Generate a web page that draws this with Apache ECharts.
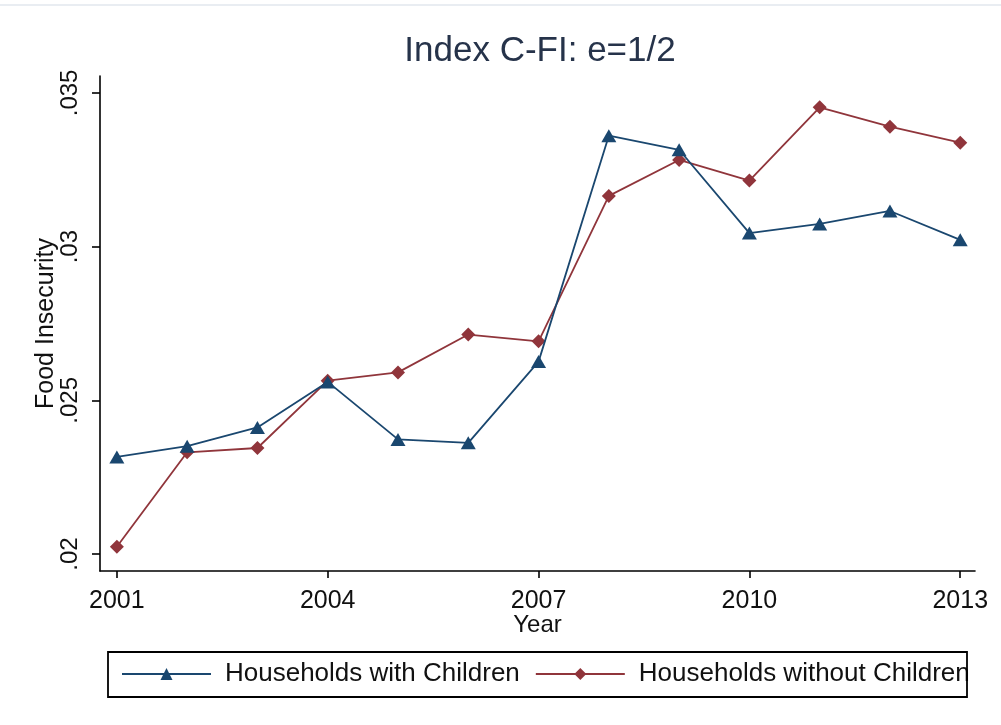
<!DOCTYPE html>
<html>
<head>
<meta charset="utf-8">
<title>Index C-FI: e=1/2</title>
<script src="https://cdn.jsdelivr.net/npm/echarts@6/dist/echarts.min.js"></script>
<style>
  html, body { margin: 0; padding: 0; background: #ffffff; }
  #chart { width: 1001px; height: 725px; }
</style>
</head>
<body>
<div id="chart"></div>
<script>
// Survey years
var years = [2001, 2002, 2003, 2004, 2005, 2006, 2007, 2008, 2009, 2010, 2011, 2012, 2013];

// Food insecurity index (C-FI, e = 1/2)
var withChildren = [0.02316, 0.02351, 0.02412, 0.02560, 0.02373, 0.02362, 0.02626,
                    0.03361, 0.03315, 0.03044, 0.03074, 0.03116, 0.03022];
var withoutChildren = [0.02024, 0.02331, 0.02345, 0.02564, 0.02591, 0.02714, 0.02692,
                       0.03165, 0.03282, 0.03215, 0.03453, 0.03390, 0.03338];

// Tick marks
var xTicks = [2001, 2004, 2007, 2010, 2013];
var yTicks = [0.02, 0.025, 0.03, 0.035];

var seriesNames = ['Households with Children', 'Households without Children'];

function pairs(values) {
  return years.map(function (y, i) { return [y, values[i]]; });
}

var FONT = '"Liberation Sans", Arial, sans-serif';
var BLUE = '#1a476f';
var RED = '#90353b';

var chart = echarts.init(document.getElementById('chart'), null, { renderer: 'canvas' });

chart.setOption({
  backgroundColor: '#ffffff',
  animation: false,
  title: {
    text: 'Index C-FI: e=1/2',
    left: 540,
    top: 34,
    padding: 0,
    textAlign: 'center',
    textStyle: { fontFamily: FONT, fontSize: 35, fontWeight: 'normal', color: '#26334a' }
  },
  grid: { left: 100, right: 26, top: 76, bottom: 154, containLabel: false },
  xAxis: {
    type: 'value',
    min: 2000.76,
    max: 2013.21,
    name: 'Year',
    nameLocation: 'middle',
    nameGap: 42,
    nameMoveOverlap: false,
    nameTextStyle: { fontFamily: FONT, fontSize: 24, color: '#111' },
    axisLine: { onZero: false, lineStyle: { color: '#000', width: 1.6 } },
    axisTick: { show: true, customValues: xTicks, length: 7, lineStyle: { color: '#000', width: 1.6 } },
    axisLabel: {
      customValues: xTicks,
      margin: 18,
      fontFamily: FONT, fontSize: 25, color: '#111',
      formatter: function (v) { return String(Math.round(v)); }
    },
    splitLine: { show: false }
  },
  yAxis: {
    type: 'value',
    min: 0.01945,
    max: 0.03555,
    name: 'Food Insecurity',
    nameLocation: 'middle',
    nameGap: 41,
    nameRotate: 90,
    nameMoveOverlap: false,
    nameTextStyle: { fontFamily: FONT, fontSize: 25, color: '#111' },
    axisLine: { show: true, lineStyle: { color: '#000', width: 1.6 } },
    axisTick: { show: true, customValues: yTicks, length: 8, lineStyle: { color: '#000', width: 1.6 } },
    axisLabel: {
      customValues: yTicks,
      rotate: 90,
      margin: 18,
      fontFamily: FONT, fontSize: 24, color: '#111',
      formatter: function (v) { return String(Number(v.toFixed(3))).replace(/^0/, ''); }
    },
    splitLine: { show: false }
  },
  legend: {
    left: 121,
    top: 661,
    padding: 0,
    itemWidth: 89,
    itemHeight: 15,
    itemGap: 15,
    data: seriesNames,
    textStyle: { fontFamily: FONT, fontSize: 26, color: '#111', padding: [0, 0, 0, 9] }
  },
  graphic: [
    {
      type: 'rect',
      shape: { x: 108, y: 652, width: 859, height: 45 },
      style: { fill: 'none', stroke: '#000', lineWidth: 1.8 },
      z: 100
    },
    {
      type: 'line',
      shape: { x1: 0, y1: 5, x2: 1001, y2: 5 },
      style: { stroke: '#e9edf2', lineWidth: 2 }
    }
  ],
  series: [
    {
      name: seriesNames[0],
      type: 'line',
      data: pairs(withChildren),
      symbol: 'triangle',
      symbolSize: [15, 13],
      showAllSymbol: true,
      itemStyle: { color: BLUE },
      lineStyle: { color: BLUE, width: 1.8 },
      z: 3
    },
    {
      name: seriesNames[1],
      type: 'line',
      data: pairs(withoutChildren),
      symbol: 'diamond',
      symbolSize: 14,
      showAllSymbol: true,
      itemStyle: { color: RED },
      lineStyle: { color: RED, width: 1.8 },
      z: 2
    }
  ]
});
</script>
</body>
</html>
